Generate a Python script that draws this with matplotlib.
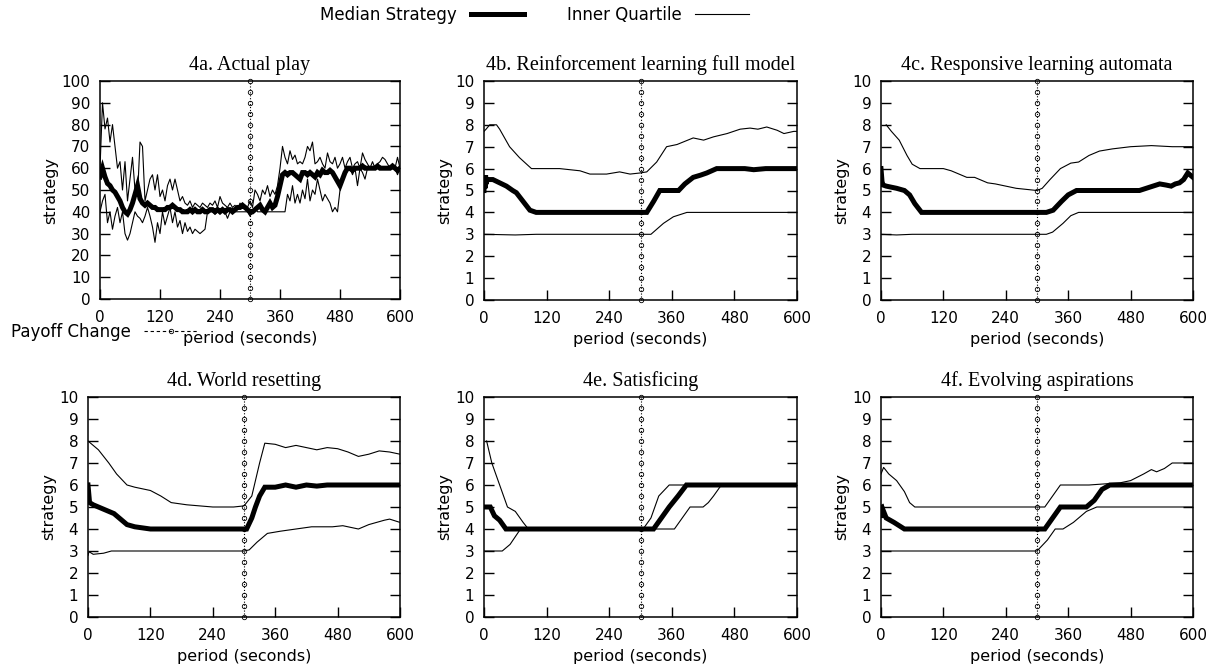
import numpy as np
import matplotlib.pyplot as plt
from matplotlib.lines import Line2D

# --------------------------------------------------
# DATA
# --------------------------------------------------

# 4a. Actual play - one sample every 5 seconds
t_a = np.arange(0, 601, 5)
med_a = [56, 60, 56, 53, 52, 50, 49, 47, 45, 42,
         40, 39, 41, 44, 48, 52, 46, 44, 43, 44,
         43, 42, 42, 41, 41, 41, 41, 42, 42, 43,
         42, 41, 41, 40, 40, 40, 41, 40, 41, 40,
         40, 41, 40, 40, 41, 41, 40, 41, 40, 41,
         40, 41, 41, 40, 41, 42, 42, 43, 42, 41,
         40, 40, 41, 42, 43, 41, 40, 42, 44, 42,
         43, 47, 52, 57, 58, 57, 58, 58, 57, 56,
         55, 58, 58, 57, 58, 57, 56, 58, 57, 59,
         58, 58, 59, 58, 56, 54, 52, 55, 58, 60,
         60, 59, 60, 60, 60, 61, 60, 60, 60, 60,
         60, 61, 60, 60, 60, 60, 60, 61, 60, 59,
         60]
up_a = [60, 90, 78, 83, 72, 80, 70, 60, 63, 50,
        63, 45, 55, 65, 50, 47, 72, 70, 45, 50,
        55, 57, 50, 57, 47, 50, 45, 52, 55, 50,
        55, 50, 45, 47, 44, 43, 45, 42, 44, 43,
        42, 44, 43, 42, 44, 43, 45, 42, 47, 44,
        43, 42, 44, 42, 43, 41, 44, 42, 43, 42,
        45, 42, 50, 48, 45, 50, 48, 52, 47, 50,
        48, 52, 60, 70, 65, 62, 68, 64, 66, 62,
        63, 62, 65, 70, 68, 72, 62, 63, 65, 62,
        60, 67, 63, 62, 65, 60, 62, 65, 60, 63,
        65, 60, 62, 63, 60, 67, 64, 62, 60, 63,
        60, 62, 63, 65, 64, 62, 60, 61, 60, 65,
        60]
low_a = [40, 45, 48, 35, 40, 32, 38, 42, 35, 40,
         30, 27, 30, 35, 40, 38, 37, 35, 38, 42,
         38, 33, 26, 35, 30, 40, 34, 38, 42, 35,
         40, 33, 36, 30, 35, 31, 33, 30, 32, 31,
         30, 31, 32, 40, 40, 40, 39, 40, 40, 40,
         40, 37, 40, 40, 40, 40, 40, 40, 40, 40,
         38, 40, 42, 40, 40, 40, 40, 40, 40, 40,
         40, 40, 40, 40, 40, 48, 45, 52, 44, 48,
         44, 50, 46, 55, 45, 50, 48, 55, 50, 45,
         48, 46, 44, 40, 42, 40, 50, 55, 58, 60,
         60, 57, 60, 52, 60, 58, 55, 60, 60, 60,
         60, 60, 60, 60, 60, 60, 60, 60, 60, 57,
         60]

# 4b. Reinforcement learning full model
t_med_b = [0, 1, 2, 3, 4, 6, 10, 17, 30, 43, 55, 62, 75, 88, 100, 312, 325, 337, 373,
           385, 401, 415, 427, 446, 480, 500, 517, 540, 600]
med_b = [5.0, 5.6, 5.1, 5.7, 5.3, 5.5, 5.5, 5.5, 5.35, 5.2, 5.0, 4.9, 4.5, 4.1, 4.0, 4.0,
         4.5, 5.0, 5.0, 5.3, 5.6, 5.7, 5.8, 6.0, 6.0, 6.0, 5.95, 6.0, 6.0]
t_up_b = [0, 4, 11, 24, 30, 49, 68, 91, 145, 184, 203, 235, 260, 280, 299, 312, 331, 350,
          370, 401, 421, 440, 466, 491, 510, 525, 542, 562, 575, 594, 600]
up_b = [7.7, 7.8, 8.0, 8.0, 7.8, 7.0, 6.5, 6.0, 6.0, 5.9, 5.75, 5.75, 5.85, 5.75, 5.8,
        5.85, 6.3, 7.0, 7.1, 7.4, 7.3, 7.45, 7.6, 7.8, 7.85, 7.8, 7.9, 7.75, 7.6, 7.7, 7.7]
t_low_b = [0, 60, 100, 320, 344, 363, 389, 600]
low_b = [3.0, 2.97, 3.0, 3.0, 3.5, 3.8, 4.0, 4.0]

# 4c. Responsive learning automata
t_med_c = [0, 2, 4, 10, 30, 45, 55, 65, 78, 318, 331, 347, 360, 376, 497, 510, 523, 536,
           548, 558, 566, 574, 582, 590, 600]
med_c = [6.0, 5.4, 5.25, 5.2, 5.1, 5.0, 4.8, 4.4, 4.0, 4.0, 4.1, 4.5, 4.8, 5.0, 5.0, 5.1,
         5.2, 5.3, 5.25, 5.2, 5.3, 5.35, 5.5, 5.8, 5.6]
t_up_c = [10, 20, 35, 50, 60, 75, 120, 135, 150, 165, 180, 190, 205, 220, 240, 260, 280,
          300, 310, 325, 345, 365, 380, 400, 420, 445, 480, 520, 560, 600]
up_c = [8.0, 7.7, 7.3, 6.6, 6.2, 6.0, 6.0, 5.9, 5.75, 5.6, 5.6, 5.5, 5.35, 5.3, 5.2, 5.1,
        5.05, 5.0, 5.1, 5.5, 6.0, 6.25, 6.3, 6.6, 6.8, 6.9, 7.0, 7.05, 7.0, 7.0]
t_low_c = [0, 30, 60, 318, 330, 350, 365, 380, 600]
low_c = [3.0, 2.97, 3.0, 3.0, 3.1, 3.5, 3.85, 4.0, 4.0]

# 4d. World resetting
t_med_d = [0, 3, 10, 30, 50, 60, 75, 90, 120, 305, 315, 322, 330, 340, 360, 380, 400, 420,
           440, 460, 600]
med_d = [6.0, 5.2, 5.1, 4.9, 4.7, 4.5, 4.2, 4.1, 4.0, 4.0, 4.5, 5.0, 5.5, 5.9, 5.9, 6.0,
         5.9, 6.0, 5.95, 6.0, 6.0]
t_up_d = [0, 20, 40, 55, 75, 90, 120, 140, 160, 190, 215, 240, 280, 300, 315, 330, 340,
          360, 380, 400, 420, 440, 460, 480, 500, 520, 540, 560, 580, 600]
up_d = [8.0, 7.6, 7.0, 6.5, 6.0, 5.9, 5.75, 5.5, 5.2, 5.1, 5.05, 5.0, 5.0, 5.05, 5.5, 7.0,
        7.9, 7.85, 7.7, 7.8, 7.7, 7.6, 7.7, 7.65, 7.5, 7.3, 7.4, 7.55, 7.5, 7.4]
t_low_d = [0, 2, 10, 30, 45, 300, 310, 325, 345, 370, 400, 430, 470, 490, 520, 540, 570,
           580, 600]
low_d = [2.8, 2.97, 2.85, 2.9, 3.0, 3.0, 3.05, 3.4, 3.8, 3.9, 4.0, 4.1, 4.1, 4.15, 4.0,
         4.2, 4.4, 4.45, 4.3]

# 4e. Satisficing
t_med_e = [0, 12, 20, 30, 42, 325, 340, 355, 372, 388, 600]
med_e = [5.0, 5.0, 4.6, 4.4, 4.0, 4.0, 4.5, 5.0, 5.5, 6.0, 6.0]
t_up_e = [5, 15, 30, 45, 60, 75, 85, 305, 320, 335, 355, 600]
up_e = [8.0, 7.0, 6.0, 5.0, 4.8, 4.3, 4.0, 4.0, 4.5, 5.5, 6.0, 6.0]
t_low_e = [0, 35, 50, 70, 365, 395, 420, 430, 440, 455, 600]
low_e = [3.0, 3.0, 3.3, 4.0, 4.0, 5.0, 5.0, 5.2, 5.5, 6.0, 6.0]

# 4f. Evolving aspirations
t_med_f = [0, 1, 2, 3, 5, 10, 25, 45, 315, 330, 345, 395, 410, 425, 440, 600]
med_f = [5.0, 4.5, 5.0, 4.6, 4.8, 4.5, 4.3, 4.0, 4.0, 4.5, 5.0, 5.0, 5.3, 5.8, 6.0, 6.0]
t_up_f = [0, 5, 15, 30, 45, 55, 65, 315, 330, 345, 400, 430, 460, 480, 505, 520, 530,
          545, 560, 600]
up_f = [6.5, 6.8, 6.5, 6.2, 5.7, 5.2, 5.0, 5.0, 5.5, 6.0, 6.0, 6.05, 6.1, 6.2, 6.5, 6.7,
        6.6, 6.75, 7.0, 7.0]
t_low_f = [0, 300, 320, 335, 350, 370, 395, 415, 600]
low_f = [3.0, 3.0, 3.5, 4.0, 4.0, 4.3, 4.8, 5.0, 5.0]

payoff_change = 300
x_ticks = [0, 120, 240, 360, 480, 600]

# --------------------------------------------------
# FIGURE
# --------------------------------------------------

plt.rcParams["font.family"] = ["DejaVu Sans"]
fig = plt.figure(figsize=(12.18, 6.7), dpi=100)

MED_LW = 3.6
Q_LW = 0.8
TICK_FS = 11
LABEL_FS = 11.5


def panel(rect, title, med, up, low, ymax):
    ax = fig.add_axes(rect)
    ax.plot(up[0], up[1], color="black", lw=Q_LW)
    ax.plot(low[0], low[1], color="black", lw=Q_LW)
    ax.plot(med[0], med[1], color="black", lw=MED_LW, solid_joinstyle="miter")
    # payoff change marker line
    step = ymax / 20
    ys = np.arange(0, ymax + step / 2, step)
    ax.plot([payoff_change] * len(ys), ys, color="black", lw=0.8, ls=":",
            marker="o", ms=3.2, mfc="none", mew=0.6, clip_on=False)
    ax.set_xlim(0, 600)
    ax.set_ylim(0, ymax)
    ax.set_xticks(x_ticks)
    ax.set_yticks(np.arange(0, ymax + 0.1, ymax / 10))
    if ymax == 10:
        ax.set_yticklabels([str(i) for i in range(11)])
    ax.tick_params(direction="in", length=7, width=1.0, labelsize=TICK_FS,
                   right=True, top=False)
    ax.tick_params(axis="x", pad=8)
    ax.tick_params(axis="y", pad=7)
    for s in ax.spines.values():
        s.set_linewidth(1.1)
    ax.set_ylabel("strategy", fontsize=LABEL_FS, labelpad=2)
    ax.set_xlabel("period (seconds)", fontsize=LABEL_FS, labelpad=4)
    ax.set_title(title, family=["Liberation Serif", "DejaVu Serif"], fontsize=14.5, pad=8)
    return ax


W, H = 1218, 670


def rect(l, r, top, bot):
    return [l / W, 1 - bot / H, (r - l) / W, (bot - top) / H]


panel(rect(100, 400, 81, 299), "4a. Actual play", (t_a, med_a), (t_a, up_a), (t_a, low_a), 100)
panel(rect(484, 797, 81, 300), "4b. Reinforcement learning full model",
      (t_med_b, med_b), (t_up_b, up_b), (t_low_b, low_b), 10)
panel(rect(881, 1193, 81, 300), "4c. Responsive learning automata",
      (t_med_c, med_c), (t_up_c, up_c), (t_low_c, low_c), 10)
panel(rect(88, 400, 397, 617), "4d. World resetting",
      (t_med_d, med_d), (t_up_d, up_d), (t_low_d, low_d), 10)
panel(rect(484, 797, 397, 617), "4e. Satisficing",
      (t_med_e, med_e), (t_up_e, up_e), (t_low_e, low_e), 10)
panel(rect(881, 1193, 397, 617), "4f. Evolving aspirations",
      (t_med_f, med_f), (t_up_f, up_f), (t_low_f, low_f), 10)

# --------------------------------------------------
# LEGENDS
# --------------------------------------------------

h_med = Line2D([], [], color="black", lw=MED_LW)
h_q = Line2D([], [], color="black", lw=Q_LW)
fig.legend([h_med, h_q], ["Median Strategy", "Inner Quartile"], ncol=2,
           loc="center", bbox_to_anchor=(534.5 / W, 1 - 15 / H), frameon=False,
           markerfirst=False, handlelength=3.2, columnspacing=2.6, handletextpad=0.8,
           prop={"size": 12})

h_pay = Line2D([], [], color="black", lw=0.8, ls=(0, (3, 2.5)), marker="o", ms=3.2,
               mfc="none", mew=0.6)
fig.legend([h_pay], ["Payoff Change"], loc="center left",
           bbox_to_anchor=(4 / W, 1 - 332 / H), frameon=False, markerfirst=False,
           handlelength=3.2, handletextpad=0.8, numpoints=1, borderaxespad=0,
           prop={"size": 12})

fig.savefig("out.png", dpi=100)
